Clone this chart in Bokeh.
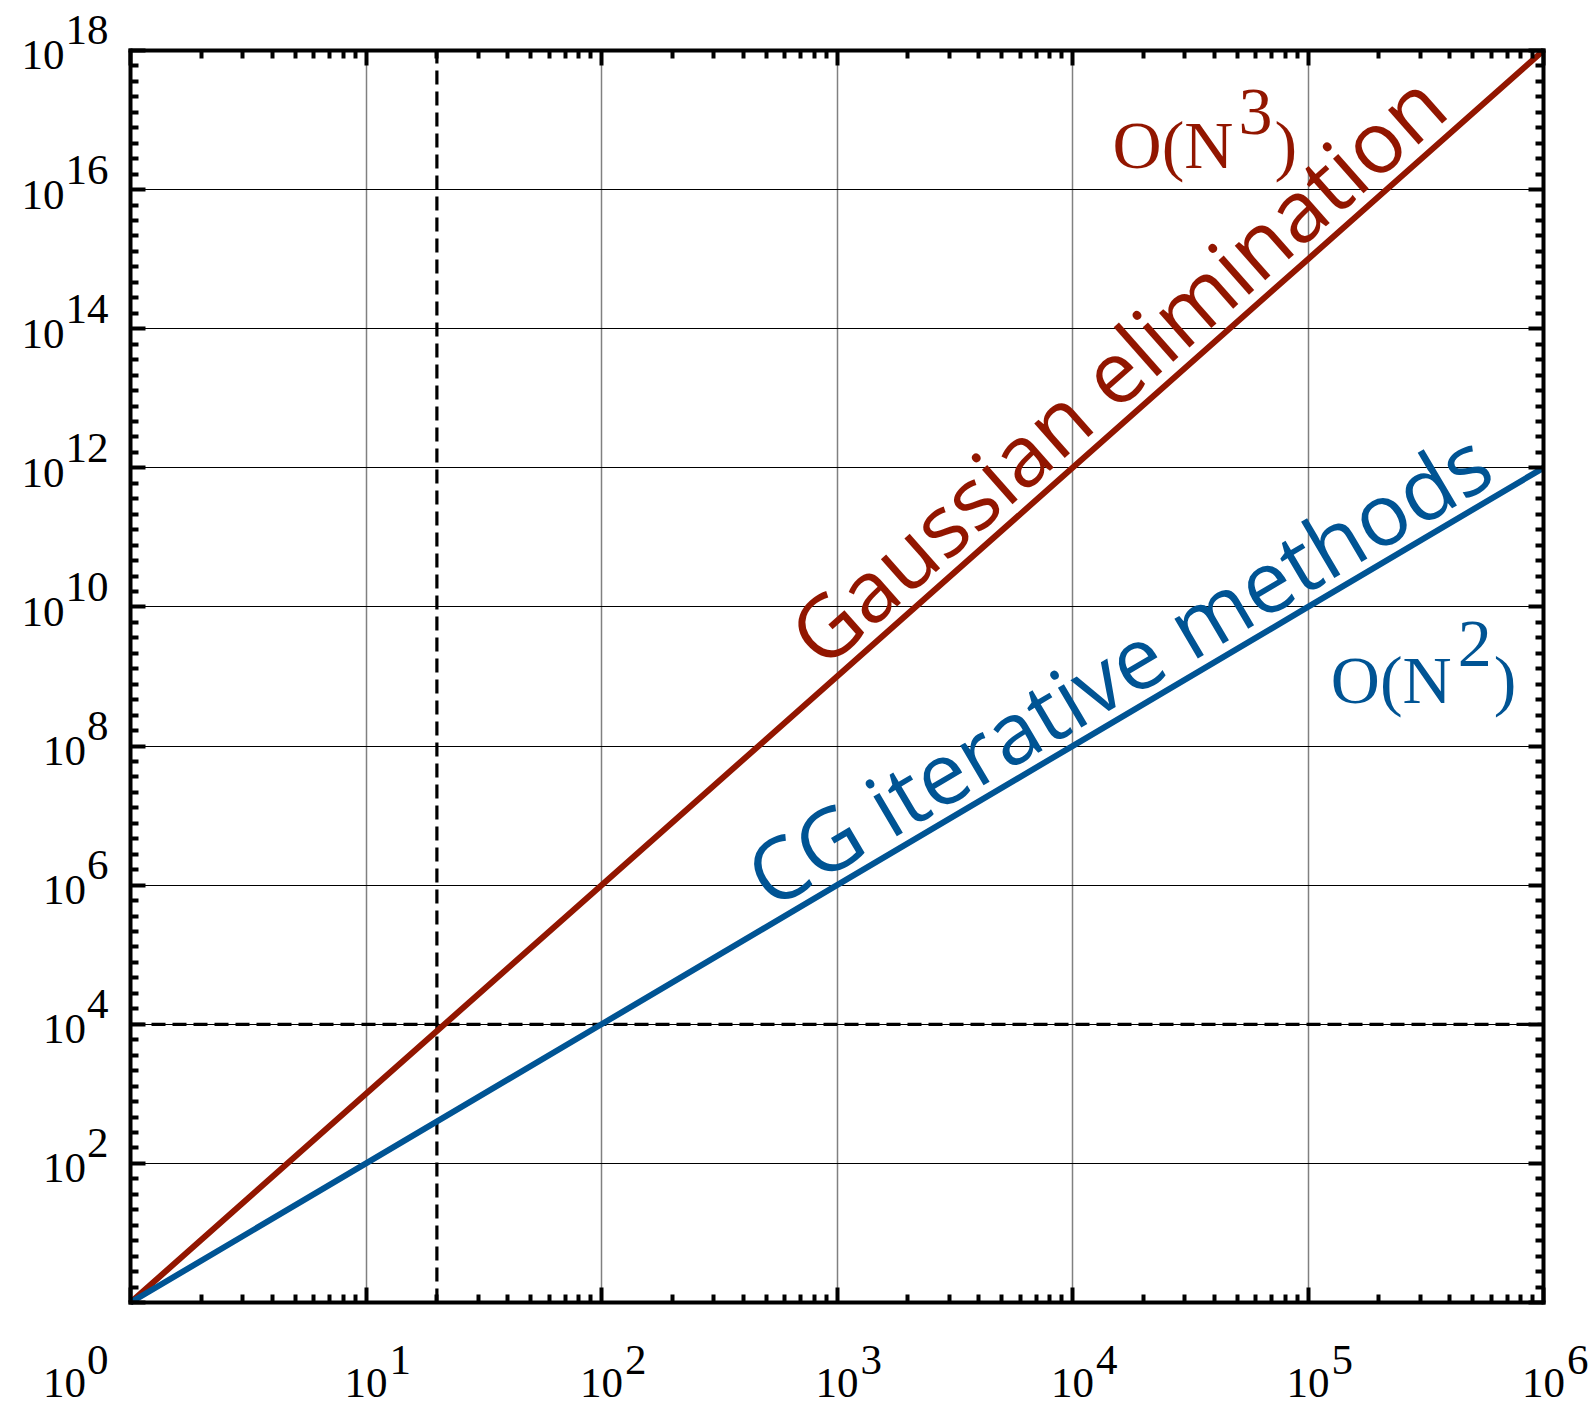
import math
from bokeh.plotting import figure
from bokeh.models import Range1d, FixedTicker, LogAxis, Label, CustomJSTickFormatter, Grid, LogScale
from bokeh.embed import file_html
from bokeh.resources import INLINE

# ---------------- data ----------------
n_values = [1e0, 1e1, 1e2, 1e3, 1e4, 1e5, 1e6]
gauss_ops = [1e0, 1e3, 1e6, 1e9, 1e12, 1e15, 1e18]
cg_ops = [1e0, 1e2, 1e4, 1e6, 1e8, 1e10, 1e12]

x_tick_exps = [0, 1, 2, 3, 4, 5, 6]
y_tick_exps = [0, 2, 4, 6, 8, 10, 12, 14, 16, 18]
x_label_exps = [1, 2, 3, 4, 5, 6]
y_label_exps = [2, 4, 6, 8, 10, 12, 14, 16, 18]
corner_label_exp = 0

ref_n = 20
ref_ops = 1e4

gauss_name = "Gaussian elimination"
cg_name = "CG iterative methods"
gauss_order = ("O(N", "3", ")")
cg_order = ("O(N", "2", ")")

# ---------------- style / layout ----------------
RED = "#921600"
BLUE = "#005494"
W, H = 1588, 1408
BOX_L, BOX_R, BOX_T, BOX_B = 130, 1543, 50, 1302   # visible plot box in canvas px
XMIN, XMAX = 1e0, 1e6
YMIN, YMAX = 1e0, 1e18
SERIF = "Liberation Serif"
SANS = "Open Sans"
TICK_FS = 43
ORD_FS = 68
NAME_FS = 86
BASE_FIX = 0.35   # compensation of label baseline placement (in em)

ppd_x = (BOX_R - BOX_L) / (math.log10(XMAX) - math.log10(XMIN))
ppd_y = (BOX_B - BOX_T) / (math.log10(YMAX) - math.log10(YMIN))
lx0 = math.log10(XMIN) - BOX_L / ppd_x
lx1 = math.log10(XMAX) + (W - BOX_R) / ppd_x
ly0 = math.log10(YMIN) - (H - BOX_B) / ppd_y
ly1 = math.log10(YMAX) + BOX_T / ppd_y

p = figure(width=W, height=H, x_axis_type=None, y_axis_type=None,
           x_range=Range1d(10 ** lx0, 10 ** lx1), y_range=Range1d(10 ** ly0, 10 ** ly1),
           x_axis_location=None, y_axis_location=None,
           min_border=0, toolbar_location=None, output_backend="svg",
           background_fill_color="white", border_fill_color="white")
p.x_scale = LogScale()
p.y_scale = LogScale()
p.outline_line_color = None

x_major = [10.0 ** e for e in x_tick_exps]
x_minor = [k * 10.0 ** e for e in x_tick_exps[:-1] for k in range(2, 10)]
y_major = [10.0 ** e for e in y_tick_exps]
y_minor = [10.0 ** (e + 2 * k / 9) for e in y_tick_exps[:-1] for k in range(1, 9)]

xt = FixedTicker(ticks=x_major, minor_ticks=x_minor)
yt = FixedTicker(ticks=y_major, minor_ticks=y_minor)

# grid (drawn only inside the box)
grid_cross = "cross_bounds" in Grid.properties()
xg = Grid(dimension=0, ticker=xt, grid_line_color="#808080", grid_line_width=1.5, bounds=(XMIN, XMAX))
yg = Grid(dimension=1, ticker=yt, grid_line_color="black", grid_line_width=1, bounds=(YMIN, YMAX))
if grid_cross:
    xg.cross_bounds = (YMIN, YMAX)
    yg.cross_bounds = (XMIN, XMAX)
    p.add_layout(xg)
    p.add_layout(yg)
else:
    p.segment(x0=x_major[1:-1], y0=[YMIN] * (len(x_major) - 2), x1=x_major[1:-1], y1=[YMAX] * (len(x_major) - 2),
              line_color="#808080", line_width=1.5, level="underlay")
    p.segment(x0=[XMIN] * (len(y_major) - 2), y0=y_major[1:-1], x1=[XMAX] * (len(y_major) - 2), y1=y_major[1:-1],
              line_color="black", line_width=1, level="underlay")


def make_axis(ticker, loc, bounds):
    ax = LogAxis(ticker=ticker, fixed_location=loc, bounds=bounds)
    ax.formatter = CustomJSTickFormatter(code="return ''")
    ax.axis_line_color = "black"
    ax.axis_line_width = 4
    ax.axis_line_cap = "square"
    ax.major_tick_in = 15
    ax.major_tick_out = 0
    ax.minor_tick_in = 8
    ax.minor_tick_out = 0
    ax.major_tick_line_width = 4
    ax.minor_tick_line_width = 4
    ax.major_tick_line_color = "black"
    ax.minor_tick_line_color = "black"
    ax.major_label_standoff = 0
    ax.major_label_text_font_size = "0px"
    return ax


p.add_layout(make_axis(xt, YMIN, (XMIN, XMAX)), "below")
p.add_layout(make_axis(xt, YMAX, (XMIN, XMAX)), "above")
p.add_layout(make_axis(yt, XMIN, (YMIN, YMAX)), "left")
p.add_layout(make_axis(yt, XMAX, (YMIN, YMAX)), "right")

# reference dashed lines
p.line([ref_n, ref_n], [YMIN, YMAX], line_color="black", line_width=3.2, line_dash="14 7")
p.line([XMIN, XMAX], [ref_ops, ref_ops], line_color="black", line_width=3.2, line_dash="14 7")

# curves
p.line(n_values, gauss_ops, line_color=RED, line_width=6)
p.line(n_values, cg_ops, line_color=BLUE, line_width=6)


def lab(fs, y_offset=0, **kw):
    p.add_layout(Label(text_baseline="alphabetic", text_font_size=f"{fs}px",
                       y_offset=y_offset + BASE_FIX * fs, **kw))


# x tick labels
for e in x_label_exps:
    lab(TICK_FS, x=10.0 ** e, y=YMIN, text="10", text_align="center",
        y_offset=-96, text_font=SERIF, text_color="black")
    lab(TICK_FS, x=10.0 ** e, y=YMIN, text=str(e), text_align="left",
        x_offset=TICK_FS * 0.5 + 2, y_offset=-73, text_font=SERIF, text_color="black")

# corner label (10^0)
lab(TICK_FS, x=XMIN, y=YMIN, text="10", text_align="right",
    x_offset=-(22 + len(str(corner_label_exp)) * TICK_FS * 0.5 + 1), y_offset=-96,
    text_font=SERIF, text_color="black")
lab(TICK_FS, x=XMIN, y=YMIN, text=str(corner_label_exp), text_align="right",
    x_offset=-22, y_offset=-73, text_font=SERIF, text_color="black")

# y tick labels
for e in y_label_exps:
    lab(TICK_FS, x=XMIN, y=10.0 ** e, text="10", text_align="right",
        x_offset=-(22 + len(str(e)) * TICK_FS * 0.5 + 1), y_offset=-20,
        text_font=SERIF, text_color="black")
    lab(TICK_FS, x=XMIN, y=10.0 ** e, text=str(e), text_align="right",
        x_offset=-22, y_offset=5, text_font=SERIF, text_color="black")

# rotated curve names (anchored on the curve, shifted perpendicular in screen px)
th_red = math.atan2(3 * ppd_y, ppd_x)
th_blue = math.atan2(2 * ppd_y, ppd_x)


def name_label(text, foot_lx, power, theta, d, color):
    dd = d + BASE_FIX * NAME_FS
    lx = foot_lx - dd * math.sin(theta) / ppd_x
    ly = power * foot_lx + dd * math.cos(theta) / ppd_y
    p.add_layout(Label(x=10 ** lx, y=10 ** ly, text=text, angle=theta, angle_units="rad",
                       text_align="center", text_baseline="alphabetic",
                       text_font=SANS, text_font_size=f"{NAME_FS}px", text_color=color))


name_label(gauss_name, 4.314, 3, th_red, 16, RED)
name_label(cg_name, 4.289, 2, th_blue, 15, BLUE)


def order_label(x, y, parts, color, sup_dx, close_dx, sup_dy):
    base, sup, close = parts
    lab(ORD_FS, x=x, y=y, text=base, text_align="left", text_font=SERIF, text_color=color)
    lab(ORD_FS, x=x, y=y, text=sup, text_align="left", x_offset=sup_dx, y_offset=sup_dy,
        text_font=SERIF, text_color=color)
    lab(ORD_FS, x=x, y=y, text=close, text_align="left", x_offset=close_dx,
        text_font=SERIF, text_color=color)


order_label(1.48e4, 2.0e16, gauss_order, RED, 126, 162, 33)
order_label(1.25e5, 4.1e8, cg_order, BLUE, 127, 163, 36)

open("out.html", "w").write(file_html(p, INLINE))
